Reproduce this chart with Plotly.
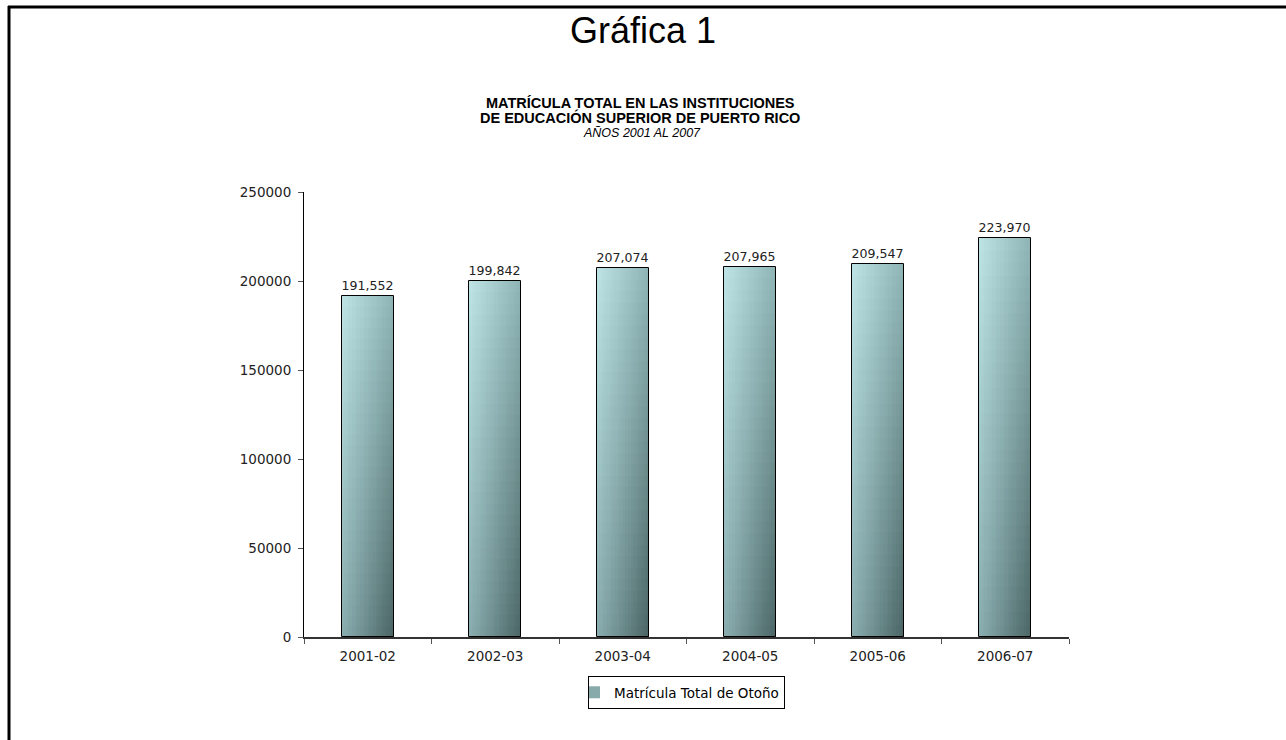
import plotly.graph_objects as go

# ---- data ----
categories = ["2001-02", "2002-03", "2003-04", "2004-05", "2005-06", "2006-07"]
values = [191552, 199842, 207074, 207965, 209547, 223970]
series_name = "Matrícula Total de Otoño"
y_tickvals = [0, 50000, 100000, 150000, 200000, 250000]

main_title = "Gráfica 1"
sub_title_1 = "MATRÍCULA TOTAL EN LAS INSTITUCIONES"
sub_title_2 = "DE EDUCACIÓN SUPERIOR DE PUERTO RICO"
sub_title_3 = "AÑOS 2001 AL 2007"

# ---- layout geometry (pixels) ----
W, H = 1286, 740
ML, MR, MT, MB = 304, W - 1069, 192, H - 637
PW, PH = W - ML - MR, H - MT - MB


def px_x(p):
    return (p - ML) / PW


def px_y(p):
    return (H - MB - p) / PH


# gradient corner colours
TL = (190, 228, 230)
TR = (142, 180, 181)
BL = (138, 174, 176)
BR = (74, 100, 100)


def mix(u, t):
    top = [TL[i] + (TR[i] - TL[i]) * u for i in range(3)]
    bot = [BL[i] + (BR[i] - BL[i]) * u for i in range(3)]
    c = [bot[i] + (top[i] - bot[i]) * t for i in range(3)]
    return "rgb(%d,%d,%d)" % tuple(round(v) for v in c)


BAR_W = 0.41
N_SLICES = 20
N_BANDS = 32

fig = go.Figure()

legend_k, legend_j = N_SLICES // 2, N_BANDS // 2
for j in range(N_BANDS - 1, -1, -1):
    frac = (j + 1) / N_BANDS
    for k in range(N_SLICES):
        off = -BAR_W / 2 + k * BAR_W / N_SLICES
        wid = BAR_W - k * BAR_W / N_SLICES
        u = (k + 0.5) / N_SLICES
        t = (j + 0.5) / N_BANDS
        show = (k == legend_k and j == legend_j)
        fig.add_trace(go.Bar(
            x=categories,
            y=[v * frac for v in values],
            offset=off,
            width=wid,
            marker=dict(color=mix(u, t), line=dict(width=0)),
            name=series_name,
            showlegend=show,
            hoverinfo="skip",
        ))

# outline + data labels
fig.add_trace(go.Bar(
    x=categories,
    y=values,
    width=BAR_W,
    offset=-BAR_W / 2,
    marker=dict(color="rgba(0,0,0,0)", line=dict(color="black", width=1)),
    text=[f"{v:,}" for v in values],
    textposition="outside",
    textfont=dict(family="DejaVu Sans", size=13.5, color="#222222"),
    cliponaxis=False,
    showlegend=False,
    name=series_name,
))

shapes = [
    # outer frame (top + left)
    dict(type="line", xref="paper", yref="paper",
         x0=px_x(8), x1=px_x(W + 5), y0=px_y(7), y1=px_y(7),
         line=dict(color="black", width=3)),
    dict(type="line", xref="paper", yref="paper",
         x0=px_x(9), x1=px_x(9), y0=px_y(6), y1=px_y(H + 5),
         line=dict(color="black", width=3)),
]

annotations = [
    dict(text=main_title, xref="paper", yref="paper", x=px_x(643), y=px_y(30),
         showarrow=False, xanchor="center", yanchor="middle",
         font=dict(family="Liberation Sans, Arial", size=36, color="black")),
    dict(text="<b>" + sub_title_1 + "</b>", xref="paper", yref="paper", x=px_x(640), y=px_y(103),
         showarrow=False, xanchor="center", yanchor="middle",
         font=dict(family="Liberation Sans, Arial", size=14.5, color="black")),
    dict(text="<b>" + sub_title_2 + "</b>", xref="paper", yref="paper", x=px_x(640), y=px_y(118),
         showarrow=False, xanchor="center", yanchor="middle",
         font=dict(family="Liberation Sans, Arial", size=14.5, color="black")),
    dict(text="<i>" + sub_title_3 + "</i>", xref="paper", yref="paper", x=px_x(642), y=px_y(133),
         showarrow=False, xanchor="center", yanchor="middle",
         font=dict(family="Liberation Sans, Arial", size=12.5, color="black")),
]

fig.update_layout(
    width=W, height=H,
    margin=dict(l=ML, r=MR, t=MT, b=MB, autoexpand=False),
    paper_bgcolor="white",
    plot_bgcolor="white",
    barmode="overlay",
    bargap=0,
    showlegend=True,
    legend=dict(
        orientation="h",
        x=0.5, xanchor="center",
        y=px_y(676), yanchor="top",
        bordercolor="black", borderwidth=1,
        bgcolor="white",
        font=dict(family="DejaVu Sans", size=13.5, color="black"),
        itemwidth=30,
        tracegroupgap=0,
        indentation=-15,
    ),
    shapes=shapes,
    annotations=annotations,
    xaxis=dict(
        type="category",
        showgrid=False,
        showline=True, linecolor="#333333", linewidth=2,
        ticks="outside", tickson="boundaries", ticklen=5, tickcolor="#555555",
        tickfont=dict(family="DejaVu Sans", size=13.5, color="#222222"),
        ticklabelstandoff=6,
        zeroline=False,
    ),
    yaxis=dict(
        range=[0, 250000],
        tickvals=y_tickvals,
        tickformat="d",
        showgrid=False,
        showline=True, linecolor="black", linewidth=1,
        ticks="outside", ticklen=5, tickcolor="#555555",
        tickfont=dict(family="DejaVu Sans", size=13.5, color="#222222"),
        ticklabelstandoff=4,
        zeroline=False,
    ),
    hovermode=False,
)

fig.write_html(
    "out.html",
    config={"displayModeBar": False},
    post_script="document.body.style.margin='0';document.body.style.overflow='hidden';",
)
